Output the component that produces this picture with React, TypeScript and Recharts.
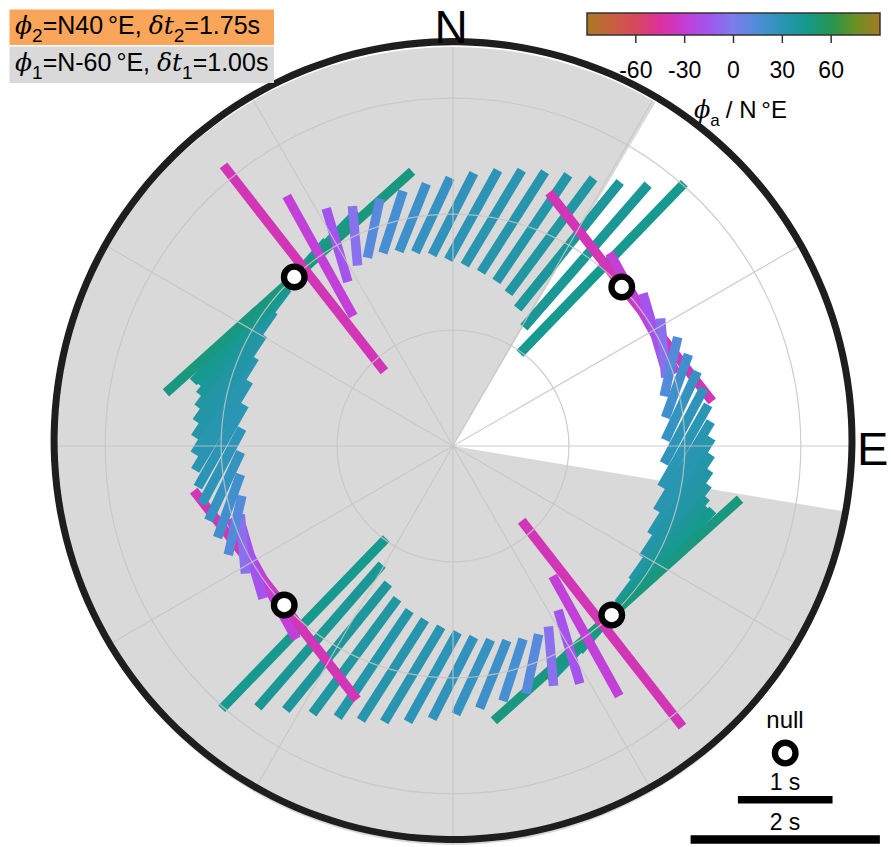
import React from "react";
import {
  PieChart,
  Pie,
  Cell,
  PolarGrid,
  ScatterChart,
  Scatter,
  XAxis,
  YAxis,
  ReferenceLine,
} from "recharts";

const W = 891;
const H = 847;
const CX = 453; // pole of the polar plot, px
const CY = 446;
const PX_PER_S = 94.65; // length of 1 s of delay time
const RING = 2.45; // radius (s) on which the bars are centred
const OUTER = 4.215;
const GRID_RADII = [1.225, 2.45, 3.675];
const GRID_ANGLES = [0, 30, 60, 90, 120, 150, 180, 210, 240, 270, 300, 330];

// backazimuth of every measurement (deg)
const backazimuths = [
  0, 5, 10, 15, 20, 25, 30, 35, 40, 45, 50, 55, 60, 65, 70, 75, 80, 85,
  90, 95, 100, 105, 110, 115, 120, 125, 130, 135, 140, 145, 150, 155, 160, 165, 170, 175,
  180, 185, 190, 195, 200, 205, 210, 215, 220, 225, 230, 235, 240, 245, 250, 255, 260, 265,
  270, 275, 280, 285, 290, 295, 300, 305, 310, 315, 320, 325, 330, 335, 340, 345, 350, 355,
];

// apparent fast axis (deg, N->E)
const phiApparent: (number | null)[] = [
  27, 29, 31, 32.5, 34, 36.5, 39, 41, 44, null, -38, -29, -16.5, -5, 13, 20, 25, 28,
  29.5, 31, 32, 33.5, 35, 37, 39, 41.5, 44, 48, -38, -29, -16.5, -5, 12, 18, 22, 25,
  27, 29, 31, 32.5, 34, 36.5, 39, 41, 44, null, -38, -29, -16.5, -5, 13, 20, 25, 28,
  29.5, 31, 32, 33.5, 35, 37, 39, 41.5, 44, 48, -38, -29, -16.5, -5, 12, 18, 22, 25,
];

// apparent delay time (s)
const dtApparent: (number | null)[] = [
  0.97, 1.08, 1.17, 1.26, 1.36, 1.51, 1.72, 2.0, 2.5, null, 2.8, 1.45, 0.81, 0.63, 0.64, 0.71, 0.8, 0.9,
  1.0, 1.1, 1.2, 1.3, 1.42, 1.57, 1.76, 2.03, 2.5, 3.5, 2.76, 1.45, 0.81, 0.63, 0.64, 0.69, 0.77, 0.87,
  0.97, 1.08, 1.17, 1.26, 1.36, 1.51, 1.72, 2.0, 2.5, null, 2.8, 1.45, 0.81, 0.63, 0.64, 0.71, 0.8, 0.9,
  1.0, 1.1, 1.2, 1.3, 1.42, 1.57, 1.76, 2.03, 2.5, 3.5, 2.76, 1.45, 0.81, 0.63, 0.64, 0.69, 0.77, 0.87,
];

// backazimuths of apparent nulls
const nullBackazimuths = [46.7, 136.8, 226.7, 316.8];

// unshaded backazimuth wedge (deg)
const openWedge = [30.5, 99.5];

// cyclic colour map for phi_a
const cmapPhi = [-90, -75, -60, -45, -30, -15, 0, 15, 30, 45, 60, 75, 90];
const cmapHex = [
  "#a87a24", "#c8603e", "#d6485e", "#de2f9c", "#c43dd6", "#a056ef", "#7d7dea",
  "#4d8dd9", "#2a95b4", "#15998b", "#279651", "#6a8f22", "#a87a24",
];
const colorbarTicks = [-60, -30, 0, 30, 60];

const SANS = "'Liberation Sans', Arial, Helvetica, sans-serif";
const SERIF = "'DejaVu Serif', 'Liberation Serif', serif";

function hexToRgb(h: string) {
  const n = parseInt(h.slice(1), 16);
  return [(n >> 16) & 255, (n >> 8) & 255, n & 255];
}

function phiColor(phi: number) {
  let i = 0;
  while (i < cmapPhi.length - 2 && phi > cmapPhi[i + 1]) i++;
  const t = (phi - cmapPhi[i]) / (cmapPhi[i + 1] - cmapPhi[i]);
  const a = hexToRgb(cmapHex[i]);
  const b = hexToRgb(cmapHex[i + 1]);
  const c = a.map((v, k) => Math.round(v + (b[k] - v) * t));
  return `rgb(${c[0]},${c[1]},${c[2]})`;
}

const rad = (d: number) => (d * Math.PI) / 180;

// bar end points in seconds, east = x, north = y
const bars = backazimuths
  .map((baz, i) => {
    const phi = phiApparent[i];
    const dt = dtApparent[i];
    if (phi == null || dt == null) return null;
    const cx = RING * Math.sin(rad(baz));
    const cy = RING * Math.cos(rad(baz));
    const hx = (dt / 2) * Math.sin(rad(phi));
    const hy = (dt / 2) * Math.cos(rad(phi));
    return {
      baz,
      p1: { x: cx - hx, y: cy - hy },
      p2: { x: cx + hx, y: cy + hy },
      color: phiColor(phi),
    };
  })
  .filter((b): b is NonNullable<typeof b> => b !== null);

const nullPoints = nullBackazimuths.map((b) => ({
  x: RING * Math.sin(rad(b)),
  y: RING * Math.cos(rad(b)),
}));

// legend (null marker + scale bars), in seconds
const LEGEND_X = 3.51;
const legendNull = [{ x: LEGEND_X, y: -3.244 }];
const scaleBars = [
  { len: 1, y: -3.737, width: 7.5 },
  { len: 2, y: -4.157, width: 8.5 },
];

const xDomain = [-CX / PX_PER_S, (W - CX) / PX_PER_S];
const yDomain = [-(H - CY) / PX_PER_S, CY / PX_PER_S];

const shadeData = [
  { name: "open", value: openWedge[1] - openWedge[0] },
  { name: "shaded", value: 360 - (openWedge[1] - openWedge[0]) },
];

const layer: React.CSSProperties = { position: "absolute", left: 0, top: 0 };
const noMargin = { top: 0, right: 0, bottom: 0, left: 0 };

function CartesianLayer({ children }: { children: React.ReactNode }) {
  return (
    <ScatterChart width={W} height={H} margin={noMargin}>
      <XAxis type="number" dataKey="x" domain={xDomain} allowDataOverflow hide />
      <YAxis type="number" dataKey="y" domain={yDomain} allowDataOverflow hide />
      {children}
    </ScatterChart>
  );
}

const NullShape = (props: any) => (
  <circle cx={props.cx} cy={props.cy} r={10.3} fill="#ffffff" stroke="#000000" strokeWidth={6.3} />
);

export default function App() {
  return (
    <div
      style={{
        position: "absolute",
        left: 0,
        top: 0,
        width: W,
        height: H,
        overflow: "hidden",
        background: "#ffffff",
        fontFamily: SANS,
      }}
    >
      {/* shaded backazimuths */}
      <div style={layer}>
        <PieChart width={W} height={H} margin={noMargin} cx={CX} cy={CY} outerRadius={OUTER * PX_PER_S}>
          <Pie
            data={shadeData}
            dataKey="value"
            cx={CX}
            cy={CY}
            innerRadius={0}
            outerRadius={OUTER * PX_PER_S}
            startAngle={90 - openWedge[0]}
            endAngle={90 - openWedge[0] - 360}
            stroke="none"
            isAnimationActive={false}
          >
            <Cell fill="#ffffff" />
            <Cell fill="#d9d9d9" />
          </Pie>
        </PieChart>
      </div>

      {/* splitting bars */}
      <div style={layer}>
        <CartesianLayer>
          {bars.map((b) => (
            <ReferenceLine
              key={b.baz}
              segment={[b.p1, b.p2]}
              stroke={b.color}
              strokeWidth={9.5}
              ifOverflow="visible"
            />
          ))}
        </CartesianLayer>
      </div>

      {/* polar grid and frame on top */}
      <div style={layer}>
        <PieChart width={W} height={H} margin={noMargin} cx={CX} cy={CY} innerRadius={0} outerRadius={OUTER * PX_PER_S}>
          <PolarGrid
            gridType="circle"
            polarAngles={GRID_ANGLES}
            polarRadius={GRID_RADII.map((r) => r * PX_PER_S)}
            stroke="#c6c6c6"
            strokeOpacity={0.85}
            strokeWidth={1.2}
          />
          <Pie
            data={[{ value: 1 }]}
            dataKey="value"
            cx={CX}
            cy={CY}
            innerRadius={OUTER * PX_PER_S - 3.5}
            outerRadius={OUTER * PX_PER_S + 3.5}
            fill="#1e1e1e"
            stroke="none"
            isAnimationActive={false}
          />
        </PieChart>
      </div>

      {/* nulls and scale bars */}
      <div style={layer}>
        <CartesianLayer>
          <Scatter data={nullPoints} shape={NullShape} isAnimationActive={false} />
          <Scatter data={legendNull} shape={NullShape} isAnimationActive={false} />
          {scaleBars.map((s) => (
            <ReferenceLine
              key={s.len}
              segment={[
                { x: LEGEND_X - s.len / 2, y: s.y },
                { x: LEGEND_X + s.len / 2, y: s.y },
              ]}
              stroke="#000000"
              strokeWidth={s.width}
              ifOverflow="visible"
            />
          ))}
        </CartesianLayer>
      </div>

      {/* text, info boxes and colour bar */}
      <svg width={W} height={H} style={{ ...layer, pointerEvents: "none" }}>
        <defs>
          <linearGradient id="phiGrad" x1="0" x2="1" y1="0" y2="0">
            {cmapPhi.map((p, i) => (
              <stop key={p} offset={(p + 90) / 180} stopColor={cmapHex[i]} />
            ))}
          </linearGradient>
        </defs>

        <rect x={9.5} y={9.5} width={264.5} height={35.5} fill="#f9a65a" />
        <rect x={9.5} y={46.5} width={264.5} height={36.5} fill="#d9d9d9" />
        <text x={15} y={33.5} fontSize={25} fontFamily={SANS} fill="#000">
          <tspan fontFamily={SERIF} fontStyle="italic">ϕ</tspan>
          <tspan fontSize={19} dy={8}>2</tspan>
          <tspan dy={-8}>{"=N40\u2009°E, "}</tspan>
          <tspan fontFamily={SERIF} fontStyle="italic">δt</tspan>
          <tspan fontSize={19} dy={8}>2</tspan>
          <tspan dy={-8}>=1.75s</tspan>
        </text>
        <text x={15} y={70.5} fontSize={25} fontFamily={SANS} fill="#000">
          <tspan fontFamily={SERIF} fontStyle="italic">ϕ</tspan>
          <tspan fontSize={19} dy={8}>1</tspan>
          <tspan dy={-8}>{"=N-60\u2009°E, "}</tspan>
          <tspan fontFamily={SERIF} fontStyle="italic">δt</tspan>
          <tspan fontSize={19} dy={8}>1</tspan>
          <tspan dy={-8}>=1.00s</tspan>
        </text>

        <text x={451} y={43} fontSize={46} textAnchor="middle" fontFamily={SANS} fill="#000">N</text>
        <text x={857} y={465} fontSize={47} fontFamily={SANS} fill="#000">E</text>

        <rect x={587} y={13} width={293} height={22} fill="url(#phiGrad)" stroke="#333" strokeWidth={1.5} />
        {colorbarTicks.map((t) => {
          const x = 587 + ((t + 90) / 180) * 293;
          return (
            <g key={t}>
              <line x1={x} x2={x} y1={35} y2={43} stroke="#333" strokeWidth={1.5} />
              <text x={x} y={78} fontSize={23} textAnchor="middle" fontFamily={SANS} fill="#000">
                {t}
              </text>
            </g>
          );
        })}
        <text x={694} y={118} fontSize={24} fontFamily={SANS} fill="#000">
          <tspan fontFamily={SERIF} fontStyle="italic">ϕ</tspan>
          <tspan fontSize={17} dy={8}>a</tspan>
          <tspan dy={-8} dx={6}>{"/ N\u2009°E"}</tspan>
        </text>

        <text x={785} y={728} fontSize={24} textAnchor="middle" fontFamily={SANS} fill="#000">null</text>
        <text x={785} y={790} fontSize={23} textAnchor="middle" fontFamily={SANS} fill="#000">1 s</text>
        <text x={785} y={830} fontSize={23} textAnchor="middle" fontFamily={SANS} fill="#000">2 s</text>
      </svg>
    </div>
  );
}
